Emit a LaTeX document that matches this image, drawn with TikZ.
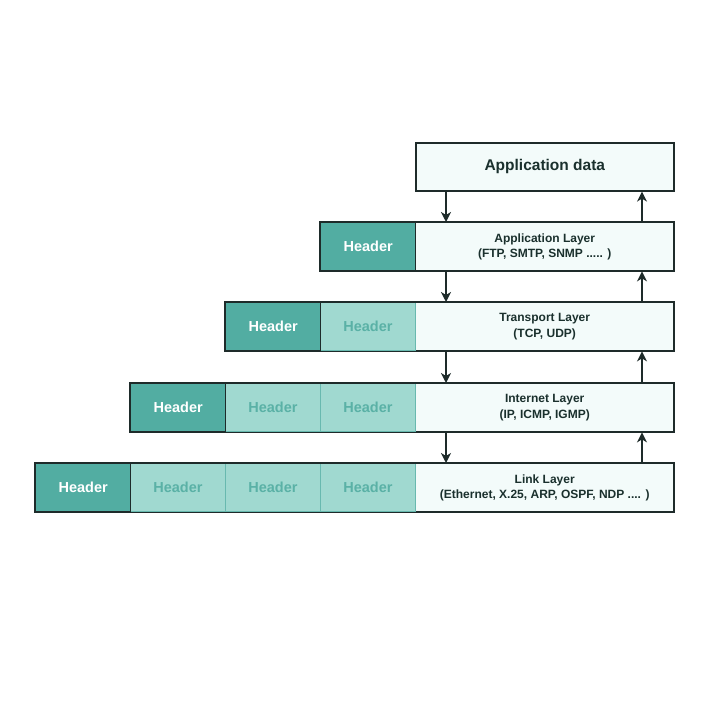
\documentclass[tikz,border=0pt]{standalone}
\usepackage{fontspec}
\setmainfont{Liberation Sans}
\usetikzlibrary{arrows.meta}
\definecolor{darkhd}{HTML}{52ADA2}
\definecolor{lighthd}{HTML}{A0D9D0}
\definecolor{lighttx}{HTML}{5AB1A6}
\definecolor{datafill}{HTML}{F3FBFA}
\definecolor{edge}{HTML}{1E2B2A}
\definecolor{inner}{HTML}{68B9AF}
\definecolor{txt}{HTML}{1A302D}
\tikzset{
  cellbase/.style={anchor=north west, minimum height=48pt, inner sep=0pt, line width=1.4pt},
  darkcell/.style={cellbase, minimum width=95pt, fill=darkhd, draw=edge, text=white, font=\fontsize{14.5}{16}\selectfont\bfseries},
  lightcell/.style={cellbase, minimum width=95pt, fill=lighthd, draw=inner, line width=0.9pt, text=lighttx, font=\fontsize{14.5}{16}\selectfont\bfseries},
  datacell/.style={cellbase, minimum width=258pt, fill=datafill, draw=edge, text=txt, align=center, font=\fontsize{12}{15.5}\selectfont\bfseries},
  rowframe/.style={draw=edge, line width=1.5pt},
  arr/.style={draw=edge, line width=1.5pt, -{Stealth[length=10pt,width=10pt,inset=3pt]}}
}
\begin{document}
\begin{tikzpicture}[x=1pt,y=-1pt]
\useasboundingbox (0,0) rectangle (712,708);
\coordinate (dx) at (446,0);
\coordinate (ux) at (642,0);
% Application data
\node[datacell, line width=1.6pt, font=\fontsize{15.5}{18}\selectfont\bfseries] (ad) at (415,142) {Application data};
% Application layer
\node[datacell] (al) at (415,222) {Application Layer\\(FTP, SMTP, SNMP ..... )};
\node[darkcell] (alh) at (320,222) {Header};
\draw[rowframe] (alh.north west) rectangle (al.south east);
% Transport layer
\node[datacell] (tl) at (415,302) {Transport Layer\\(TCP, UDP)};
\node[lightcell] (tlh2) at (320,302) {Header};
\node[darkcell] (tlh) at (225,302) {Header};
\draw[rowframe] (tlh.north west) rectangle (tl.south east);
% Internet layer
\node[datacell] (il) at (415,383) {Internet Layer\\(IP, ICMP, IGMP)};
\node[lightcell] (ilh3) at (320,383) {Header};
\node[lightcell] (ilh2) at (225,383) {Header};
\node[darkcell] (ilh) at (130,383) {Header};
\draw[rowframe] (ilh.north west) rectangle (il.south east);
% Link layer
\node[datacell] (ll) at (415,463) {Link Layer\\(Ethernet, X.25, ARP, OSPF, NDP .... )};
\node[lightcell] (llh4) at (320,463) {Header};
\node[lightcell] (llh3) at (225,463) {Header};
\node[lightcell] (llh2) at (130,463) {Header};
\node[darkcell] (llh) at (35,463) {Header};
\draw[rowframe] (llh.north west) rectangle (ll.south east);
% arrows down
\draw[arr] (ad.south -| dx) -- (al.north -| dx);
\draw[arr] (al.south -| dx) -- (tl.north -| dx);
\draw[arr] (tl.south -| dx) -- (il.north -| dx);
\draw[arr] (il.south -| dx) -- (ll.north -| dx);
% arrows up
\draw[arr] (al.north -| ux) -- (ad.south -| ux);
\draw[arr] (tl.north -| ux) -- (al.south -| ux);
\draw[arr] (il.north -| ux) -- (tl.south -| ux);
\draw[arr] (ll.north -| ux) -- (il.south -| ux);
\end{tikzpicture}
\end{document}
